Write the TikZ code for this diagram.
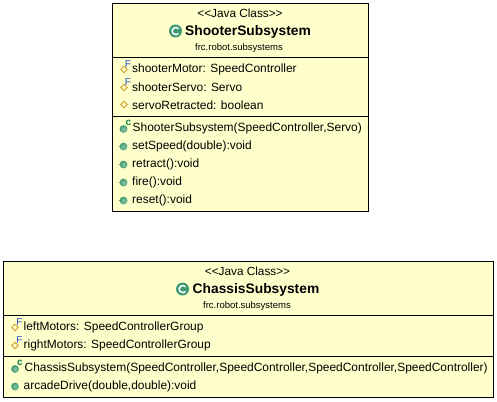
\documentclass[tikz,border=0pt]{standalone}
\usepackage{fontspec}
\setmainfont{Liberation Sans}
\usetikzlibrary{positioning}
\definecolor{boxfill}{HTML}{FFFFCC}
\definecolor{icongreen}{HTML}{3F9A70}
\definecolor{iconlight}{HTML}{8CC7A8}
\definecolor{icongold}{HTML}{D0A030}
\definecolor{iconblue}{HTML}{2A55C0}
\definecolor{icondark}{HTML}{0B8040}
\tikzset{
  umlbox/.style={draw=black,fill=boxfill,line width=1pt},
  stereo/.style={inner sep=0pt,font=\fontsize{11.8}{13}\selectfont},
  title/.style={inner sep=0pt,font=\fontsize{13.8}{16}\selectfont\bfseries},
  pack/.style={inner sep=0pt,font=\fontsize{9.5}{11}\selectfont},
  member/.style={inner sep=0pt,anchor=west,font=\fontsize{11.95}{14}\selectfont},
  flag/.style={inner sep=0pt,font=\fontsize{10}{10}\selectfont}
}
\newcommand{\stereotext}{{<}{<}Java Class{>}{>}}
\newcommand{\fieldicon}[2]{\draw [icongold,fill=boxfill,line width=0.8pt] (#1-3.2,#2) -- (#1,#2+3.2) -- (#1+3.2,#2) -- (#1,#2-3.2) -- cycle;}
\newcommand{\methodicon}[2]{\shade [inner color=iconlight,outer color=icongreen] (#1,#2) circle (3.9);}
\newcommand{\classicon}[2]{\fill [icongreen] (#1,#2) circle (6.5);
  \draw [white,line width=1.5pt] (#1+3,#2+2.2) arc (40:320:3.6);}
\begin{document}
\begin{tikzpicture}[x=1pt,y=1pt]
\useasboundingbox (0,0) rectangle (497,-401);
% shooter box
\draw [umlbox] (112.5,-3.5) rectangle (368.5,-211.5);
\draw [line width=1pt] (112.5,-57.5) -- (368.5,-57.5);
\draw [line width=1pt] (112.5,-116.5) -- (368.5,-116.5);
\node [stereo] (shooterStereo) at (240,-13) {\stereotext};
\node [title] (shooterTitle) at (248,-31.5) {ShooterSubsystem};
\node [pack] (shooterPack) at (239,-48) {frc.robot.subsystems};
\classicon{175.5}{-31}
\fieldicon{124}{-69.5}
\node [flag,text=iconblue] (shooterF1) at (128,-64.5) {F};
\node [member] (shooterMotor) at (132,-69.3) {shooterMotor: SpeedController};
\fieldicon{124}{-87.5}
\node [flag,text=iconblue] (shooterF2) at (128,-82.5) {F};
\node [member] (shooterServo) at (132,-87.3) {shooterServo: Servo};
\fieldicon{124}{-104.5}
\node [member] (servoRetracted) at (132,-105.3) {servoRetracted: boolean};
\methodicon{123.5}{-129}
\node [flag,text=icondark] (shooterC) at (128.5,-123) {\bfseries c};
\node [member] (shooterCtor) at (132.5,-128.3) {ShooterSubsystem(SpeedController,Servo)};
\methodicon{123.5}{-146.5}
\node [member] (setSpeed) at (132,-146.3) {setSpeed(double):void};
\methodicon{123.5}{-164.5}
\node [member] (retract) at (132,-164.3) {retract():void};
\methodicon{123.5}{-182.5}
\node [member] (fire) at (132,-182.3) {fire():void};
\methodicon{123.5}{-200.5}
\node [member] (reset) at (132,-200.3) {reset():void};
% chassis box
\draw [umlbox] (3.5,-261.5) rectangle (493.5,-397.5);
\draw [line width=1pt] (3.5,-315.5) -- (493.5,-315.5);
\draw [line width=1pt] (3.5,-356.5) -- (493.5,-356.5);
\node [stereo] (chassisStereo) at (247.5,-271) {\stereotext};
\node [title] (chassisTitle) at (256,-289.5) {ChassisSubsystem};
\node [pack] (chassisPack) at (247,-306) {frc.robot.subsystems};
\classicon{182.5}{-289}
\fieldicon{15}{-327.5}
\node [flag,text=iconblue] (chassisF1) at (19.5,-322.5) {F};
\node [member] (leftMotors) at (23.5,-327.3) {leftMotors: SpeedControllerGroup};
\fieldicon{15}{-345.5}
\node [flag,text=iconblue] (chassisF2) at (19.5,-340.5) {F};
\node [member] (rightMotors) at (23.5,-345.3) {rightMotors: SpeedControllerGroup};
\methodicon{15}{-369}
\node [flag,text=icondark] (chassisC) at (20,-363) {\bfseries c};
\node [member] (chassisCtor) at (24.5,-368.3) {ChassisSubsystem(SpeedController,SpeedController,SpeedController,SpeedController)};
\methodicon{15}{-386.5}
\node [member] (arcadeDrive) at (23.5,-386.3) {arcadeDrive(double,double):void};
\end{tikzpicture}
\end{document}
